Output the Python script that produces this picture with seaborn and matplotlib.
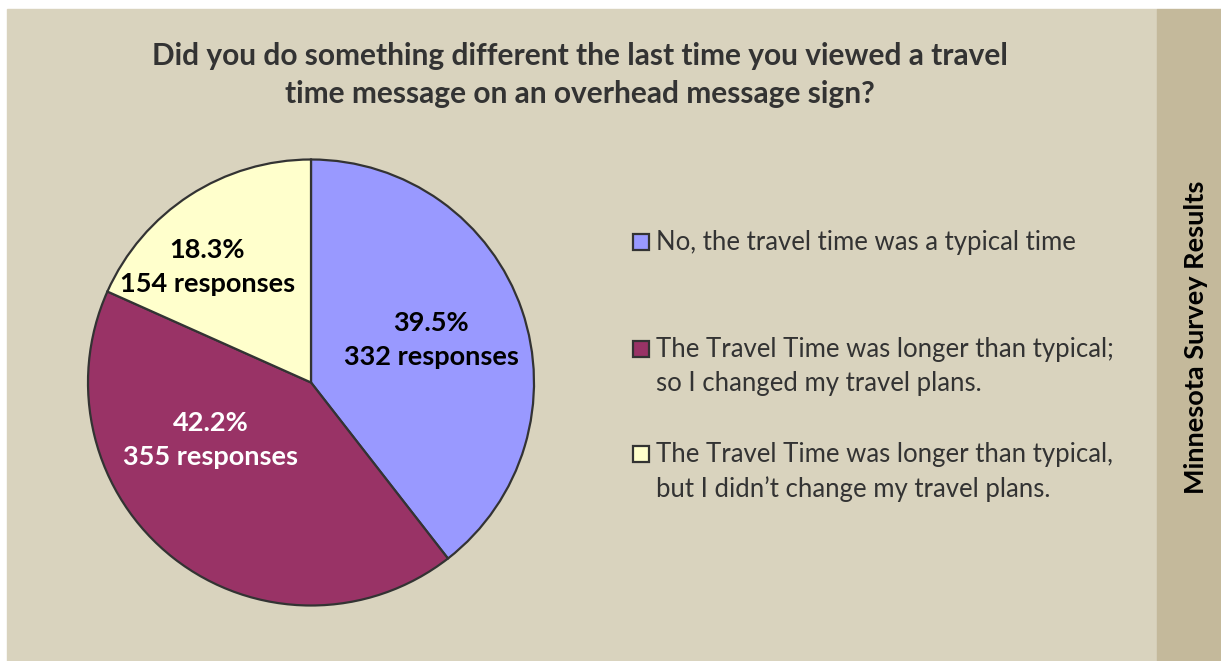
import matplotlib
matplotlib.use("Agg")
import matplotlib.pyplot as plt
import matplotlib.patches as mpatches
import seaborn as sns

# Survey data
categories = [
    "No, the travel time was a typical time",
    "The Travel Time was longer than typical;\nso I changed my travel plans.",
    "The Travel Time was longer than typical,\nbut I didn\u2019t change my travel plans.",
]
responses = [332, 355, 154]
percents = [39.5, 42.2, 18.3]
colors = ["#9999FF", "#993366", "#FFFFCC"]
label_colors = ["black", "white", "black"]

sns.set_theme(style="white")
plt.rcParams["font.family"] = ["Lato", "DejaVu Sans"]

W, H = 1221, 661
fig = plt.figure(figsize=(W / 100, H / 100), dpi=100, facecolor="white")

# background panels
fig.patches.append(mpatches.Rectangle((7 / W, 0), (1157 - 7) / W, (H - 9) / H,
                                      transform=fig.transFigure, color="#D9D3BE", zorder=-5))
fig.patches.append(mpatches.Rectangle((1157 / W, 0), (W - 1157) / W, (H - 9) / H,
                                      transform=fig.transFigure, color="#C4B99B", zorder=-5))

# pie
cx, cy, r = 311, 382.5, 223
ax = fig.add_axes([(cx - r) / W, (H - cy - r) / H, 2 * r / W, 2 * r / H])
ax.set_zorder(2)
ax.patch.set_alpha(0)
wedges, _ = ax.pie(responses, colors=colors, startangle=90, counterclock=False,
                   radius=1, wedgeprops=dict(edgecolor="#333333", linewidth=1.6))
for w in wedges:
    w.set_clip_on(False)
ax.set_xlim(-1, 1)
ax.set_ylim(-1, 1)
ax.axis("off")

label_pos = [(0.54, 0.19), (-0.45, -0.26), (-0.465, 0.52)]
for (x, y), p, n, c in zip(label_pos, percents, responses, label_colors):
    ax.text(x, y, f"{p}%\n{n} responses", ha="center", va="center", color=c,
            fontsize=19.5, fontweight="bold", linespacing=1.5)

# title
fig.text(580 / W, 1 - 75 / H,
         "Did you do something different the last time you viewed a travel\n"
         "time message on an overhead message sign?",
         ha="center", va="center", fontsize=21.5, fontweight="bold",
         color="#333333", linespacing=1.45)

# legend
marker_y = [242, 349, 454]
for yy, lab, col in zip(marker_y, categories, colors):
    fig.patches.append(mpatches.Rectangle((633 / W, 1 - (yy + 8) / H), 16 / W, 16 / H,
                                          transform=fig.transFigure, facecolor=col,
                                          edgecolor="#333333", linewidth=1.6, zorder=3))
    fig.text(656 / W, 1 - (yy - 12) / H, lab, ha="left", va="top", fontsize=18.5,
             color="#333333", linespacing=1.45)

# side strip text
fig.text(1196 / W, 1 - 337 / H, "Minnesota Survey Results", rotation=90,
         ha="center", va="center", fontsize=19.5, fontweight="bold", color="black")

fig.savefig("out.png", dpi=100, facecolor=fig.get_facecolor())
